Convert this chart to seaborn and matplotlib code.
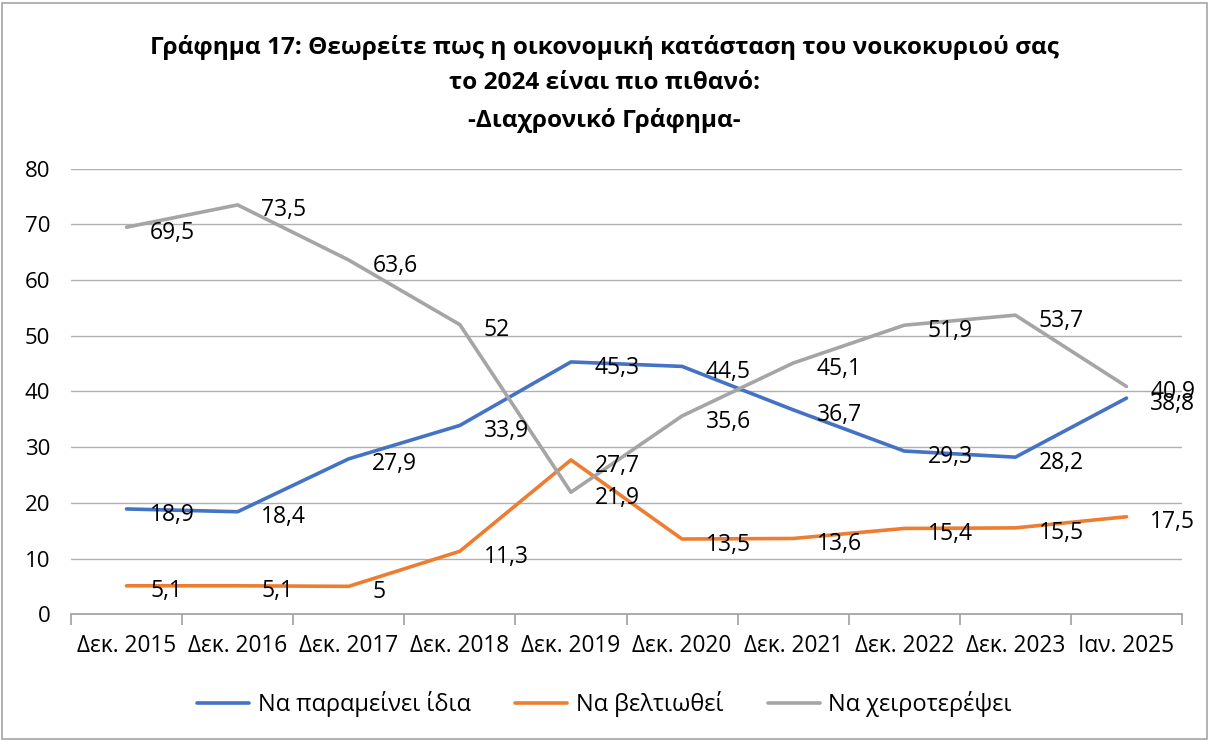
import matplotlib
matplotlib.use("Agg")
import matplotlib.pyplot as plt
import seaborn as sns
import pandas as pd
from matplotlib.patches import Rectangle
from matplotlib.ticker import FixedLocator

categories = ["Δεκ. 2015", "Δεκ. 2016", "Δεκ. 2017", "Δεκ. 2018", "Δεκ. 2019",
              "Δεκ. 2020", "Δεκ. 2021", "Δεκ. 2022", "Δεκ. 2023", "Ιαν. 2025"]
same = [18.9, 18.4, 27.9, 33.9, 45.3, 44.5, 36.7, 29.3, 28.2, 38.8]
better = [5.1, 5.1, 5, 11.3, 27.7, 13.5, 13.6, 15.4, 15.5, 17.5]
worse = [69.5, 73.5, 63.6, 52, 21.9, 35.6, 45.1, 51.9, 53.7, 40.9]
series_names = ["Να παραμείνει ίδια", "Να βελτιωθεί", "Να χειροτερέψει"]
colors = ["#4472C4", "#ED7D31", "#A5A5A5"]
title = ("Γράφημα 17: Θεωρείτε πως η οικονομική κατάσταση του νοικοκυριού σας\n"
         "το 2024 είναι πιο πιθανό:\n-Διαχρονικό Γράφημα-")

sns.set_theme(style="white")
plt.rcParams['font.family'] = ['Open Sans', 'DejaVu Sans']
plt.rcParams['text.color'] = 'black'

rows = []
for name, vals in zip(series_names, [same, better, worse]):
    for c, v in zip(categories, vals):
        rows.append({"cat": c, "value": v, "series": name})
df = pd.DataFrame(rows)

fig = plt.figure(figsize=(12.09, 7.40), dpi=100)
ax = fig.add_axes([0.0587, 0.170, 0.919, 0.602])

sns.lineplot(data=df, x="cat", y="value", hue="series", hue_order=series_names,
             palette=colors, linewidth=2.6, ax=ax, sort=False)

ax.set_xlim(-0.5, len(categories) - 0.5)
ax.set_ylim(0, 80)
ax.set_yticks(range(0, 81, 10))
ax.yaxis.grid(True, color="#B0B0B0", linewidth=1.0)
ax.set_axisbelow(True)
for s in ["left", "top", "right"]:
    ax.spines[s].set_visible(False)
ax.spines["bottom"].set_color("#A0A0A0")
ax.spines["bottom"].set_linewidth(1.2)

ax.set_xticks(range(len(categories)))
ax.set_xticklabels(categories)
ax.xaxis.set_minor_locator(FixedLocator([i - 0.5 for i in range(len(categories) + 1)]))
ax.tick_params(axis="x", which="major", length=0, pad=14, labelsize=16.3, colors="black")
ax.tick_params(axis="x", which="minor", length=8, width=1.2, color="#A0A0A0", bottom=True)
ax.tick_params(axis="y", length=0, pad=15, labelsize=16, colors="black")
ax.set_xlabel("")
ax.set_ylabel("")

for vals in [same, better, worse]:
    for i, v in enumerate(vals):
        txt = f"{v:g}".replace(".", ",")
        ax.annotate(txt, (i, v), xytext=(17, -4), textcoords="offset points",
                    ha="left", va="center", fontsize=16.5, color="black")

fig.text(0.5, 0.887, title, ha="center", va="center", fontsize=17.6,
         fontweight="bold", linespacing=1.65, color="black")

handles, labels = ax.get_legend_handles_labels()
leg = ax.legend(handles, labels, loc="center", bbox_to_anchor=(0.5, 0.048),
                bbox_transform=fig.transFigure, ncol=3, frameon=False, fontsize=17,
                handlelength=2.2, columnspacing=1.9, handletextpad=0.35)
for t in leg.get_texts():
    t.set_color("black")

fig.patches.append(Rectangle((0.002, 0.002), 0.996, 0.994, transform=fig.transFigure,
                             fill=False, edgecolor="#A6A6A6", linewidth=1.2))

fig.savefig("out.png", dpi=100)
